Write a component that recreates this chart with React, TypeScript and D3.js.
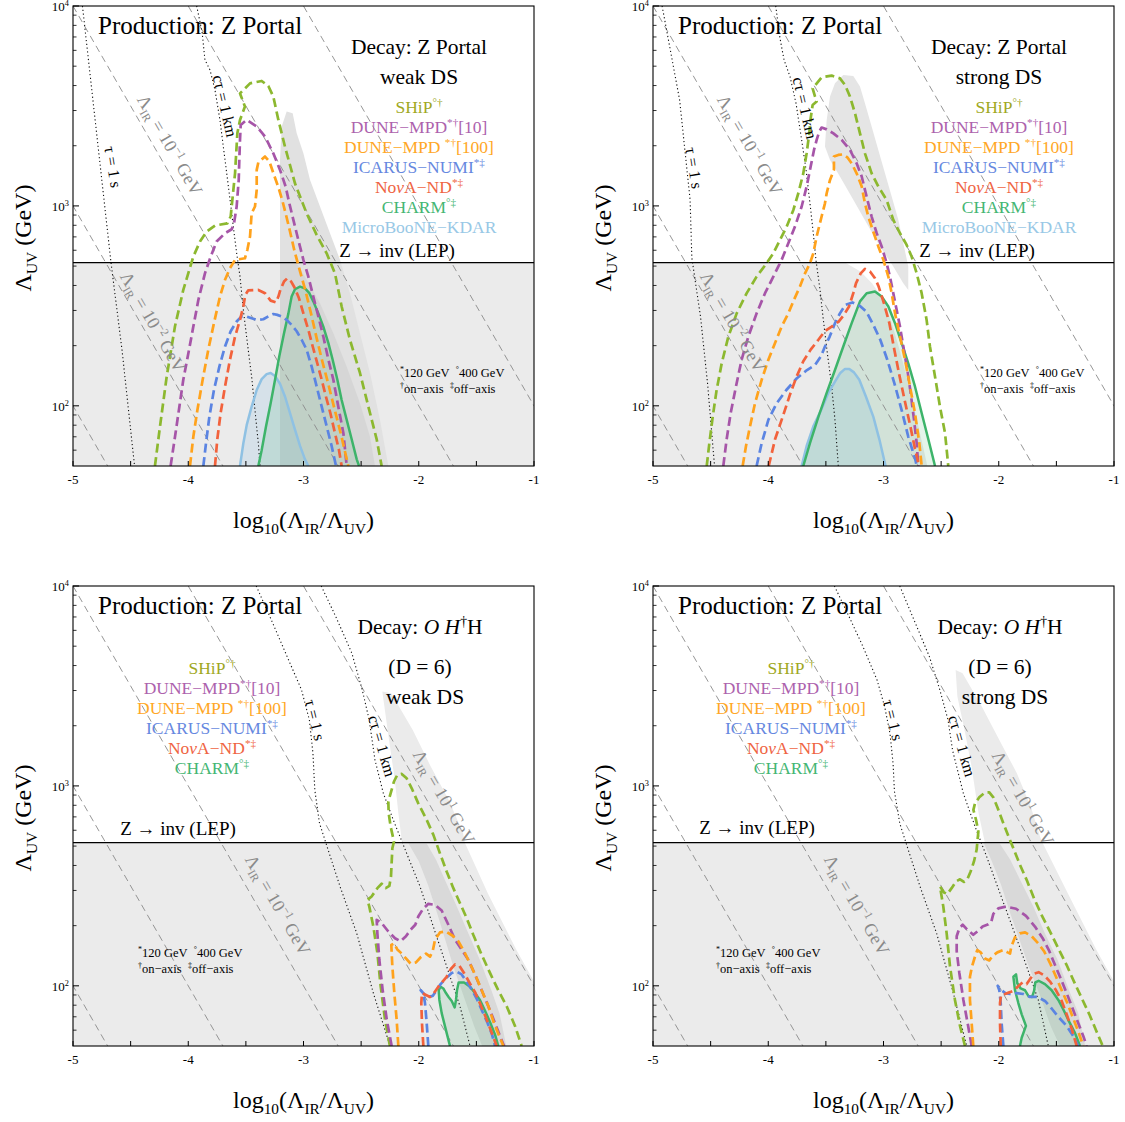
import React from 'react';
import * as d3 from 'd3';

type Pt = [number, number];
type Seg = { t: string; sup?: boolean; sub?: boolean; it?: boolean; fill?: string };

// ---------- axes ----------
const X_DOMAIN: [number, number] = [-5, -1];
const Y_DOMAIN: [number, number] = [50, 10000];
const X_TICKS = [-5, -4.5, -4, -3.5, -3, -2.5, -2, -1.5, -1];
const X_TICK_LABELS = [-5, -4, -3, -2, -1];
const Y_TICK_LABELS = [100, 1000, 10000];
const LEP_BOUND = 520;
const LAMBDA_IR = [0.001, 0.01, 0.1, 1, 10];

// ---------- colours ----------
const COL = {
  ship: '#8cb82f', dune10: '#a655a8', dune100: '#ffa21c', icarus: '#5b84e2',
  nova: '#f2623c', charm: '#3db46a', micro: '#8fc1e3',
};
const TXT = {
  ship: '#a0a81e', dune10: '#ad62ad', dune100: '#ffa726', icarus: '#6688e0',
  nova: '#ef6443', charm: '#44b673', micro: '#98c8e6',
};

// ---------- panel 1 : Z portal, weak DS ----------
const P1_SHIP: Pt[] = [[-4.289,50],[-4.245,79],[-4.187,140],[-4.115,250],[-4.043,380],[-3.956,558],[-3.898,664],[-3.840,745],[-3.768,798],[-3.661,818],[-3.632,885],[-3.594,1455],[-3.574,2307],[-3.551,2692],[-3.508,3141],[-3.551,3656],[-3.464,4102],[-3.363,4217],[-3.305,3981],[-3.262,3524],[-3.218,2692],[-3.161,1982],[-3.074,1297],[-2.973,918],[-2.886,716],[-2.799,579],[-2.727,460],[-2.669,314],[-2.597,214],[-2.510,146],[-2.437,99],[-2.365,68],[-2.322,50]];
const P1_DUNE10: Pt[] = [[-4.153,50],[-4.115,70],[-4.077,99],[-4.043,135],[-3.999,183],[-3.956,249],[-3.912,339],[-3.855,460],[-3.805,558],[-3.754,664],[-3.681,730],[-3.623,764],[-3.603,818],[-3.580,993],[-3.562,1349],[-3.557,1698],[-3.551,2138],[-3.545,2541],[-3.493,2692],[-3.406,2494],[-3.334,2223],[-3.262,1833],[-3.204,1514],[-3.155,1250],[-3.123,1030],[-3.088,851],[-3.045,676],[-3.001,537],[-2.958,443],[-2.915,352],[-2.871,280],[-2.828,222],[-2.784,170],[-2.741,135],[-2.698,99],[-2.654,73],[-2.625,50]];
const P1_DUNE100: Pt[] = [[-3.985,50],[-3.956,70],[-3.921,95],[-3.875,135],[-3.826,191],[-3.777,259],[-3.725,352],[-3.681,427],[-3.638,488],[-3.594,537],[-3.508,547],[-3.487,603],[-3.464,703],[-3.450,918],[-3.421,993],[-3.406,1202],[-3.406,1514],[-3.392,1648],[-3.334,1766],[-3.296,1667],[-3.256,1429],[-3.215,1225],[-3.181,1051],[-3.152,902],[-3.117,745],[-3.077,591],[-3.030,470],[-2.981,373],[-2.932,285],[-2.886,218],[-2.837,167],[-2.790,132],[-2.732,97],[-2.675,72],[-2.611,50]];
const P1_ICARUS: Pt[] = [[-3.869,50],[-3.846,65],[-3.817,88],[-3.777,120],[-3.730,157],[-3.681,198],[-3.632,236],[-3.580,264],[-3.537,280],[-3.499,280],[-3.450,274],[-3.401,269],[-3.349,271],[-3.305,280],[-3.262,288],[-3.227,285],[-3.189,280],[-3.146,269],[-3.103,254],[-3.059,236],[-3.016,214],[-2.973,191],[-2.929,157],[-2.886,125],[-2.842,99],[-2.799,79],[-2.756,63],[-2.718,50]];
const P1_NOVA: Pt[] = [[-3.768,50],[-3.748,68],[-3.719,92],[-3.681,125],[-3.638,170],[-3.594,222],[-3.551,269],[-3.522,314],[-3.505,359],[-3.479,378],[-3.392,380],[-3.334,366],[-3.285,336],[-3.239,329],[-3.218,352],[-3.201,380],[-3.169,419],[-3.140,435],[-3.108,419],[-3.079,392],[-3.039,345],[-3.001,290],[-2.958,240],[-2.920,198],[-2.880,163],[-2.842,135],[-2.805,111],[-2.767,92],[-2.727,73],[-2.692,60],[-2.669,50]];
const P1_CHARM: Pt[] = [[-3.392,50],[-3.363,60],[-3.325,79],[-3.285,103],[-3.247,135],[-3.210,177],[-3.169,231],[-3.131,290],[-3.103,352],[-3.074,383],[-3.030,395],[-2.987,387],[-2.949,366],[-2.915,333],[-2.871,290],[-2.828,249],[-2.784,206],[-2.747,170],[-2.706,135],[-2.669,107],[-2.625,85],[-2.582,68],[-2.538,54],[-2.518,50]];
const P1_MICRO: Pt[] = [[-3.551,50],[-3.522,65],[-3.493,80],[-3.450,99],[-3.406,120],[-3.363,136],[-3.320,144],[-3.285,146],[-3.247,141],[-3.204,129],[-3.160,111],[-3.117,92],[-3.074,76],[-3.030,63],[-2.987,54],[-2.958,50]];
const P1_BG: Pt[] = [[-5,50],[-5,LEP_BOUND],[-1,LEP_BOUND],[-1,50]];
const P1_BLOB: Pt[] = [[-3.204,50],[-3.204,1698],[-3.189,2494],[-3.146,2963],[-3.094,2904],[-3.059,2307],[-3.001,1833],[-2.943,1349],[-2.857,993],[-2.770,730],[-2.683,537],[-2.597,366],[-2.510,231],[-2.423,146],[-2.336,85],[-2.264,50]];
const P1_DARK: Pt[] = [[-3.204,522],[-3.065,522],[-2.972,427],[-2.857,326],[-2.741,231],[-2.625,157],[-2.510,103],[-2.423,70],[-2.380,50],[-3.204,50]];
const P1_TAU: Pt[] = [[-4.918,10000],[-4.670,519],[-4.575,191],[-4.466,50]];
const P1_CTAU: Pt[] = [[-3.927,10000],[-3.880,7413],[-3.855,5370],[-3.811,4786],[-3.768,3802],[-3.725,2692],[-3.681,1698],[-3.644,1156],[-3.609,789],[-3.580,579],[-3.551,444],[-3.522,302],[-3.487,206],[-3.450,140],[-3.421,95],[-3.392,65],[-3.377,50]];

// ---------- panel 2 : Z portal, strong DS ----------
const P2_SHIP: Pt[] = [[-4.534,50],[-4.511,65],[-4.482,88],[-4.448,120],[-4.404,163],[-4.346,222],[-4.274,290],[-4.187,366],[-4.101,443],[-4.014,517],[-3.956,579],[-3.898,676],[-3.840,788],[-3.782,955],[-3.739,1157],[-3.696,1455],[-3.667,1833],[-3.644,2307],[-3.632,2742],[-3.615,3199],[-3.580,3327],[-3.594,3524],[-3.615,3873],[-3.537,4395],[-3.450,4487],[-3.378,4345],[-3.334,4027],[-3.291,3524],[-3.247,2904],[-3.204,2307],[-3.161,1833],[-3.103,1455],[-3.045,1250],[-2.973,1072],[-2.944,955],[-2.915,851],[-2.857,730],[-2.799,638],[-2.756,558],[-2.712,460],[-2.669,366],[-2.626,269],[-2.597,198],[-2.553,140],[-2.510,99],[-2.466,73],[-2.438,50]];
const P2_DUNE10: Pt[] = [[-4.390,50],[-4.361,68],[-4.326,92],[-4.280,125],[-4.231,170],[-4.173,222],[-4.101,290],[-4.028,366],[-3.956,443],[-3.884,537],[-3.826,650],[-3.768,788],[-3.710,993],[-3.667,1250],[-3.632,1574],[-3.603,1905],[-3.580,2138],[-3.557,2355],[-3.537,2466],[-3.493,2415],[-3.435,2307],[-3.363,2138],[-3.291,1905],[-3.233,1633],[-3.189,1403],[-3.161,1202],[-3.132,1030],[-3.103,885],[-3.059,730],[-3.016,627],[-2.973,517],[-2.944,443],[-2.915,366],[-2.886,302],[-2.857,249],[-2.828,198],[-2.793,151],[-2.764,116],[-2.735,85],[-2.712,65],[-2.698,50]];
const P2_DUNE100: Pt[] = [[-4.222,50],[-4.193,63],[-4.158,79],[-4.115,103],[-4.057,135],[-3.999,170],[-3.941,206],[-3.884,249],[-3.826,290],[-3.777,339],[-3.725,395],[-3.681,460],[-3.638,517],[-3.609,579],[-3.580,703],[-3.537,885],[-3.508,1030],[-3.493,1157],[-3.464,1349],[-3.430,1514],[-3.430,1766],[-3.392,1799],[-3.349,1811],[-3.314,1750],[-3.276,1633],[-3.233,1455],[-3.189,1250],[-3.161,1030],[-3.132,885],[-3.094,759],[-3.045,627],[-3.001,537],[-2.958,443],[-2.929,366],[-2.900,290],[-2.857,222],[-2.813,170],[-2.770,125],[-2.727,92],[-2.689,65],[-2.669,50]];
const P2_ICARUS: Pt[] = [[-4.101,50],[-4.057,65],[-3.999,85],[-3.927,103],[-3.843,120],[-3.754,137],[-3.664,151],[-3.594,160],[-3.542,177],[-3.508,198],[-3.467,222],[-3.421,259],[-3.378,290],[-3.331,320],[-3.270,329],[-3.204,316],[-3.149,296],[-3.088,254],[-3.028,214],[-2.967,170],[-2.906,130],[-2.842,95],[-2.785,70],[-2.724,54],[-2.712,50]];
const P2_NOVA: Pt[] = [[-3.996,50],[-3.941,68],[-3.875,88],[-3.811,114],[-3.754,140],[-3.696,167],[-3.632,191],[-3.565,214],[-3.510,236],[-3.450,249],[-3.389,264],[-3.343,285],[-3.299,314],[-3.262,366],[-3.239,410],[-3.198,460],[-3.161,484],[-3.117,470],[-3.074,435],[-3.042,395],[-2.996,326],[-2.949,259],[-2.906,191],[-2.860,140],[-2.814,105],[-2.767,79],[-2.727,61],[-2.692,50]];
const P2_CHARM: Pt[] = [[-3.696,50],[-3.638,65],[-3.565,88],[-3.493,116],[-3.421,151],[-3.349,198],[-3.276,259],[-3.204,333],[-3.146,366],[-3.074,373],[-3.016,352],[-2.958,314],[-2.900,259],[-2.842,206],[-2.785,163],[-2.727,125],[-2.669,92],[-2.611,68],[-2.553,50]];
const P2_MICRO: Pt[] = [[-3.710,50],[-3.667,63],[-3.609,79],[-3.542,95],[-3.479,116],[-3.421,132],[-3.375,146],[-3.334,153],[-3.297,153],[-3.256,147],[-3.210,135],[-3.152,111],[-3.088,88],[-3.036,68],[-2.982,50]];
const P2_BG: Pt[] = [[-5,50],[-5,LEP_BOUND],[-3.33,LEP_BOUND],[-3.2,470],[-3.1,410],[-3.0,340],[-2.93,260],[-2.87,200],[-2.8,140],[-2.72,90],[-2.65,60],[-2.62,50]];
const P2_BLOB: Pt[] = [[-3.508,1982],[-3.493,2692],[-3.464,3524],[-3.421,4102],[-3.349,4519],[-3.262,4467],[-3.204,3954],[-3.161,3258],[-3.103,2494],[-3.045,1905],[-2.987,1455],[-2.929,1114],[-2.871,851],[-2.828,650],[-2.785,498],[-2.785,380],[-2.828,410],[-2.915,498],[-3.030,627],[-3.146,818],[-3.262,1072],[-3.378,1403],[-3.464,1698]];
const P2_TAU: Pt[] = [[-4.921,10000],[-4.769,3388],[-4.678,1072],[-4.663,550],[-4.588,280],[-4.527,130],[-4.466,50]];
const P2_CTAU: Pt[] = [[-3.935,10000],[-3.900,7000],[-3.863,5370],[-3.811,4436],[-3.759,3258],[-3.710,2138],[-3.672,1514],[-3.638,1030],[-3.609,730],[-3.586,537],[-3.551,380],[-3.522,269],[-3.487,183],[-3.450,125],[-3.421,85],[-3.392,50]];

// ---------- panel 3 : O H†H, weak DS ----------
const P3_SHIP: Pt[] = [[-2.250,50],[-2.293,68],[-2.330,99],[-2.359,146],[-2.394,198],[-2.429,249],[-2.446,269],[-2.409,280],[-2.359,308],[-2.322,324],[-2.287,308],[-2.255,316],[-2.241,352],[-2.229,488],[-2.215,527],[-2.244,627],[-2.261,730],[-2.264,836],[-2.244,918],[-2.215,1052],[-2.186,1135],[-2.148,1148],[-2.105,1091],[-2.061,973],[-2.004,818],[-1.931,676],[-1.873,569],[-1.816,460],[-1.758,373],[-1.700,308],[-1.642,259],[-1.584,218],[-1.527,180],[-1.454,143],[-1.382,116],[-1.310,95],[-1.237,79],[-1.165,63],[-1.107,50]];
const P3_DUNE10: Pt[] = [[-2.235,50],[-2.278,68],[-2.313,95],[-2.342,135],[-2.359,183],[-2.365,214],[-2.322,206],[-2.264,187],[-2.206,173],[-2.157,167],[-2.111,177],[-2.070,191],[-2.030,202],[-2.004,222],[-1.960,244],[-1.917,257],[-1.859,254],[-1.801,238],[-1.743,202],[-1.685,170],[-1.628,152],[-1.570,135],[-1.512,114],[-1.454,95],[-1.396,79],[-1.338,65],[-1.295,56],[-1.260,50]];
const P3_DUNE100: Pt[] = [[-2.177,50],[-2.192,68],[-2.212,92],[-2.229,125],[-2.238,160],[-2.215,163],[-2.186,152],[-2.148,145],[-2.111,137],[-2.070,129],[-2.024,131],[-1.983,139],[-1.937,145],[-1.902,140],[-1.879,149],[-1.859,170],[-1.816,185],[-1.764,187],[-1.706,178],[-1.657,167],[-1.607,149],[-1.555,129],[-1.503,111],[-1.454,95],[-1.396,79],[-1.347,65],[-1.301,56],[-1.266,50]];
const P3_ICARUS: Pt[] = [[-1.917,50],[-1.931,65],[-1.946,82],[-1.960,92],[-1.983,95],[-1.954,91],[-1.917,88],[-1.879,89],[-1.845,95],[-1.810,102],[-1.764,109],[-1.714,116],[-1.671,118],[-1.628,114],[-1.579,104],[-1.532,94],[-1.492,85],[-1.446,74],[-1.402,65],[-1.364,57],[-1.338,50]];
const P3_NOVA: Pt[] = [[-1.960,50],[-1.972,65],[-1.978,82],[-1.972,92],[-1.937,90],[-1.902,88],[-1.868,92],[-1.830,99],[-1.793,105],[-1.758,111],[-1.723,121],[-1.685,128],[-1.648,126],[-1.607,116],[-1.561,104],[-1.512,93],[-1.466,81],[-1.420,70],[-1.375,60],[-1.324,50]];
const P3_CHARM: Pt[] = [[-1.729,50],[-1.764,60],[-1.801,73],[-1.821,85],[-1.827,95],[-1.810,99],[-1.787,97],[-1.764,92],[-1.741,88],[-1.714,84],[-1.688,78],[-1.677,85],[-1.668,95],[-1.654,104],[-1.607,104],[-1.555,99],[-1.512,92],[-1.469,85],[-1.425,75],[-1.382,66],[-1.338,57],[-1.310,50]];
const P3_BG: Pt[] = [[-5,50],[-5,LEP_BOUND],[-2.145,LEP_BOUND],[-2.177,733],[-2.208,1072],[-2.27,1905],[-2.316,2963],[-2.239,2904],[-2.052,1905],[-1.896,1250],[-1.74,851],[-1.616,582],[-1.6,LEP_BOUND],[-1.4,290],[-1.15,150],[-1.0,105],[-1,50]];
const P3_DARK: Pt[] = [[-2.09,517],[-1.93,513],[-1.85,427],[-1.76,326],[-1.67,249],[-1.57,183],[-1.47,135],[-1.37,95],[-1.30,73],[-1.24,50],[-1.45,50],[-1.52,63],[-1.62,92],[-1.70,125],[-1.77,170],[-1.84,230],[-1.92,320],[-2.0,420]];
const P3_TAU: Pt[] = [[-3.41,10000],[-3.266,6501],[-3.142,4436],[-3.017,3020],[-2.949,2138],[-2.918,1455],[-2.902,955],[-2.861,650],[-2.683,314],[-2.538,183],[-2.394,92],[-2.249,50]];
const P3_CTAU: Pt[] = [[-2.846,10000],[-2.72,7031],[-2.58,4603],[-2.49,3020],[-2.43,2138],[-2.38,1349],[-2.307,918],[-2.221,676],[-2.105,460],[-1.989,314],[-1.874,198],[-1.758,125],[-1.642,79],[-1.555,50]];

// ---------- panel 4 : O H†H, strong DS ----------
const P4_SHIP: Pt[] = [[-2.293,50],[-2.336,63],[-2.380,85],[-2.423,125],[-2.452,183],[-2.481,249],[-2.510,314],[-2.475,293],[-2.446,288],[-2.409,308],[-2.371,333],[-2.336,341],[-2.302,331],[-2.273,341],[-2.244,373],[-2.215,419],[-2.192,479],[-2.177,591],[-2.197,676],[-2.220,759],[-2.206,818],[-2.169,877],[-2.119,927],[-2.082,929],[-2.047,877],[-2.012,782],[-1.966,664],[-1.917,562],[-1.868,479],[-1.816,403],[-1.758,339],[-1.694,274],[-1.628,226],[-1.556,187],[-1.483,154],[-1.411,127],[-1.347,105],[-1.281,87],[-1.214,72],[-1.156,60],[-1.098,50]];
const P4_DUNE10: Pt[] = [[-2.235,50],[-2.270,65],[-2.307,85],[-2.342,116],[-2.365,149],[-2.365,177],[-2.342,194],[-2.313,202],[-2.273,191],[-2.221,180],[-2.186,187],[-2.140,198],[-2.090,203],[-2.064,210],[-2.047,229],[-2.004,244],[-1.937,249],[-1.850,243],[-1.764,224],[-1.686,198],[-1.619,173],[-1.561,149],[-1.512,127],[-1.463,109],[-1.411,92],[-1.359,77],[-1.310,65],[-1.266,56],[-1.237,50]];
const P4_DUNE100: Pt[] = [[-2.221,50],[-2.235,65],[-2.250,85],[-2.250,111],[-2.232,125],[-2.206,140],[-2.186,151],[-2.157,147],[-2.119,137],[-2.082,134],[-2.053,141],[-2.012,147],[-1.960,151],[-1.923,147],[-1.902,145],[-1.891,157],[-1.859,175],[-1.816,183],[-1.772,185],[-1.714,177],[-1.657,163],[-1.607,149],[-1.555,130],[-1.503,111],[-1.454,95],[-1.405,82],[-1.359,70],[-1.310,59],[-1.266,50]];
const P4_ICARUS: Pt[] = [[-1.960,50],[-1.975,65],[-1.983,82],[-1.995,95],[-2.009,100],[-1.975,95],[-1.943,92],[-1.902,91],[-1.845,92],[-1.787,91],[-1.729,88],[-1.665,88],[-1.599,84],[-1.541,77],[-1.483,70],[-1.411,63],[-1.353,56],[-1.310,50]];
const P4_NOVA: Pt[] = [[-1.983,50],[-1.989,65],[-1.989,82],[-1.980,90],[-1.946,91],[-1.902,93],[-1.865,95],[-1.827,100],[-1.793,104],[-1.758,102],[-1.729,108],[-1.694,115],[-1.654,117],[-1.607,113],[-1.555,105],[-1.503,95],[-1.454,84],[-1.411,72],[-1.367,61],[-1.324,50]];
const P4_CHARM: Pt[] = [[-1.816,50],[-1.801,55],[-1.764,63],[-1.801,72],[-1.830,82],[-1.859,95],[-1.873,111],[-1.850,114],[-1.839,103],[-1.810,97],[-1.772,95],[-1.743,89],[-1.711,88],[-1.694,94],[-1.683,104],[-1.654,106],[-1.599,102],[-1.541,95],[-1.483,85],[-1.434,75],[-1.388,66],[-1.338,58],[-1.295,50]];
const P4_BG: Pt[] = [[-5,50],[-5,LEP_BOUND],[-2.12,LEP_BOUND],[-2.175,730],[-2.236,1250],[-2.297,1905],[-2.359,2800],[-2.374,3800],[-2.314,3656],[-2.147,2493],[-1.995,1698],[-1.843,1157],[-1.723,788],[-1.632,537],[-1.62,LEP_BOUND],[-1.4,290],[-1.15,150],[-1.0,105],[-1,50]];
const P4_DARK: Pt[] = [[-2.13,517],[-1.99,513],[-1.90,427],[-1.80,326],[-1.70,249],[-1.60,183],[-1.49,135],[-1.39,95],[-1.31,73],[-1.25,50],[-1.47,50],[-1.55,63],[-1.65,92],[-1.74,125],[-1.82,170],[-1.90,230],[-1.98,320],[-2.06,420]];
const P4_TAU: Pt[] = [[-3.426,10000],[-3.299,7031],[-3.178,4977],[-3.056,3388],[-2.990,2495],[-2.944,1832],[-2.917,1297],[-2.905,938],[-2.859,650],[-2.683,314],[-2.539,183],[-2.394,92],[-2.278,50]];
const P4_CTAU: Pt[] = [[-2.859,10000],[-2.723,6501],[-2.602,4436],[-2.511,3020],[-2.44,2138],[-2.40,1500],[-2.307,918],[-2.206,627],[-2.105,443],[-1.989,290],[-1.873,191],[-1.758,125],[-1.657,85],[-1.570,50]];

// ---------- text ----------
const LEG_SHIP: Seg[] = [{ t: 'SHiP' }, { t: '°†', sup: true }];
const LEG_DUNE10: Seg[] = [{ t: 'DUNE−MPD' }, { t: '*†', sup: true }, { t: '[10]' }];
const LEG_DUNE100: Seg[] = [{ t: 'DUNE−MPD\u00A0' }, { t: '*†', sup: true }, { t: '[100]' }];
const LEG_ICARUS: Seg[] = [{ t: 'ICARUS−NUMI' }, { t: '*‡', sup: true }];
const LEG_NOVA: Seg[] = [{ t: 'No' }, { t: 'ν', it: true }, { t: 'A−ND' }, { t: '*‡', sup: true }];
const LEG_CHARM: Seg[] = [{ t: 'CHARM' }, { t: '°‡', sup: true }];
const LEG_MICRO: Seg[] = [{ t: 'MicroBooNE−KDAR' }];
const LEGEND_FULL = [
  { segs: LEG_SHIP, c: TXT.ship }, { segs: LEG_DUNE10, c: TXT.dune10 }, { segs: LEG_DUNE100, c: TXT.dune100 },
  { segs: LEG_ICARUS, c: TXT.icarus }, { segs: LEG_NOVA, c: TXT.nova }, { segs: LEG_CHARM, c: TXT.charm },
  { segs: LEG_MICRO, c: TXT.micro },
];
const LEGEND_SHORT = LEGEND_FULL.slice(0, 6);
const DECAY_Z: Seg[] = [{ t: 'Decay: Z Portal' }];
const DECAY_H: Seg[] = [{ t: 'Decay: ' }, { t: 'O', it: true }, { t: '\u00A0' }, { t: 'H', it: true }, { t: '†', sup: true }, { t: 'H' }];
const FOOT1: Seg[] = [{ t: '*', sup: true }, { t: '120 GeV\u00A0\u00A0' }, { t: '°', sup: true }, { t: '400 GeV' }];
const FOOT2: Seg[] = [{ t: '†', sup: true }, { t: 'on−axis\u00A0\u00A0' }, { t: '‡', sup: true }, { t: 'off−axis' }];
const XLABEL: Seg[] = [{ t: 'log' }, { t: '10', sub: true }, { t: '(Λ' }, { t: 'IR', sub: true }, { t: '/Λ' }, { t: 'UV', sub: true }, { t: ')' }];
const YLABEL: Seg[] = [{ t: 'Λ' }, { t: 'UV', sub: true }, { t: '\u00A0(GeV)' }];
const lamLabel = (e: string): Seg[] => [{ t: 'Λ' }, { t: 'IR', sub: true }, { t: ' = 10' }, { t: e, sup: true }, { t: ' GeV' }];

const PW = 461;
const PH = 460;
const FONT = "'Liberation Serif','Times New Roman',Times,serif";

function Rich({ segs, size, x = 0, cy = 0, anchor = 'middle', fill = '#000' }: { segs: Seg[]; size: number; x?: number; cy?: number; anchor?: string; fill?: string }) {
  let cur = 0;
  return (
    <text x={x} y={cy + size * 0.34} fontSize={size} textAnchor={anchor as any} fill={fill}>
      {segs.map((s, i) => {
        const target = s.sup ? -size * 0.4 : s.sub ? size * 0.24 : 0;
        const dy = target - cur;
        cur = target;
        return (
          <tspan key={i} dy={dy} fontSize={s.sup || s.sub ? size * 0.64 : size} fontStyle={s.it ? 'italic' : 'normal'} fill={s.fill}>
            {s.t}
          </tspan>
        );
      })}
    </text>
  );
}

type Curve = { pts: Pt[]; color: string; dashed: boolean; fill?: string };
type Cfg = {
  ox: number; oy: number;
  bg: Pt[]; blobs: { pts: Pt[]; fill: string }[];
  curves: Curve[]; tau: Pt[]; ctau: Pt[];
  decay: { segs: Seg[]; cx: number; cy: number }[];
  legend: { segs: Seg[]; c: string }[]; legX: number; legY: number;
  lep: [number, number]; foot: [number, number];
  tauL: [number, number, number]; ctauL: [number, number, number];
  lamL: { x: number; y: number; e: string }[];
};

const curves1 = (s: Pt[], d10: Pt[], d100: Pt[], ic: Pt[], nv: Pt[], ch: Pt[], mb?: Pt[]): Curve[] => {
  const out: Curve[] = [];
  if (mb) out.push({ pts: mb, color: COL.micro, dashed: false, fill: 'rgba(143,193,227,0.22)' });
  out.push({ pts: ch, color: COL.charm, dashed: false, fill: 'rgba(61,180,106,0.14)' });
  out.push({ pts: s, color: COL.ship, dashed: true });
  out.push({ pts: d10, color: COL.dune10, dashed: true });
  out.push({ pts: d100, color: COL.dune100, dashed: true });
  out.push({ pts: ic, color: COL.icarus, dashed: true });
  out.push({ pts: nv, color: COL.nova, dashed: true });
  return out;
};

const PANELS: Cfg[] = [
  {
    ox: 73, oy: 6, bg: P1_BG,
    blobs: [{ pts: P1_BLOB, fill: '#e1e1e1' }, { pts: P1_DARK, fill: '#d6d6d6' }],
    curves: curves1(P1_SHIP, P1_DUNE10, P1_DUNE100, P1_ICARUS, P1_NOVA, P1_CHARM, P1_MICRO),
    tau: P1_TAU, ctau: P1_CTAU,
    decay: [{ segs: DECAY_Z, cx: 346, cy: 41 }, { segs: [{ t: 'weak DS' }], cx: 346, cy: 71 }],
    legend: LEGEND_FULL, legX: 346, legY: 101,
    lep: [324, 245], foot: [327, 367],
    tauL: [40, 161, 81], ctauL: [152, 100, 77],
    lamL: [{ x: 97, y: 139, e: '−1' }, { x: 80, y: 316, e: '−2' }],
  },
  {
    ox: 653, oy: 6, bg: P2_BG,
    blobs: [{ pts: P2_BLOB, fill: '#e5e5e5' }],
    curves: curves1(P2_SHIP, P2_DUNE10, P2_DUNE100, P2_ICARUS, P2_NOVA, P2_CHARM, P2_MICRO),
    tau: P2_TAU, ctau: P2_CTAU,
    decay: [{ segs: DECAY_Z, cx: 346, cy: 41 }, { segs: [{ t: 'strong DS' }], cx: 346, cy: 71 }],
    legend: LEGEND_FULL, legX: 346, legY: 101,
    lep: [324, 245], foot: [327, 367],
    tauL: [41, 162, 81], ctauL: [152, 102, 77],
    lamL: [{ x: 97, y: 139, e: '−1' }, { x: 80, y: 316, e: '−2' }],
  },
  {
    ox: 73, oy: 586, bg: P3_BG,
    blobs: [{ pts: P3_DARK, fill: '#d9d9d9' }],
    curves: curves1(P3_SHIP, P3_DUNE10, P3_DUNE100, P3_ICARUS, P3_NOVA, P3_CHARM),
    tau: P3_TAU, ctau: P3_CTAU,
    decay: [{ segs: DECAY_H, cx: 347, cy: 41 }, { segs: [{ t: '(D = 6)' }], cx: 347, cy: 81 }, { segs: [{ t: 'weak DS' }], cx: 352, cy: 111 }],
    legend: LEGEND_SHORT, legX: 139, legY: 82,
    lep: [105, 243], foot: [65, 367],
    tauL: [242, 134, 76], ctauL: [309, 160, 74],
    lamL: [{ x: 205, y: 319, e: '−1' }, { x: 371, y: 211, e: '1' }],
  },
  {
    ox: 653, oy: 586, bg: P4_BG,
    blobs: [{ pts: P4_DARK, fill: '#d9d9d9' }],
    curves: curves1(P4_SHIP, P4_DUNE10, P4_DUNE100, P4_ICARUS, P4_NOVA, P4_CHARM),
    tau: P4_TAU, ctau: P4_CTAU,
    decay: [{ segs: DECAY_H, cx: 347, cy: 41 }, { segs: [{ t: '(D = 6)' }], cx: 347, cy: 81 }, { segs: [{ t: 'strong DS' }], cx: 352, cy: 111 }],
    legend: LEGEND_SHORT, legX: 138, legY: 82,
    lep: [104, 242], foot: [63, 367],
    tauL: [240, 134, 76], ctauL: [309, 160, 74],
    lamL: [{ x: 204, y: 319, e: '−1' }, { x: 370, y: 212, e: '1' }],
  },
];

function Panel({ cfg, idx }: { cfg: Cfg; idx: number }) {
  const x = d3.scaleLinear().domain(X_DOMAIN).range([0, PW]);
  const y = d3.scaleLog().domain(Y_DOMAIN).range([PH, 0]);
  const line = d3.line<Pt>().x((d) => x(d[0])).y((d) => y(d[1]));
  const poly = (pts: Pt[]) => (line(pts) || '') + 'Z';
  const clipId = `pclip${idx}`;
  const minorY: number[] = [];
  for (let e = 1; e <= 3; e++) for (let k = 2; k <= 9; k++) {
    const v = k * Math.pow(10, e);
    if (v > Y_DOMAIN[0] && v < Y_DOMAIN[1]) minorY.push(v);
  }
  const lamLines = LAMBDA_IR.map((L) => [[Math.log10(L) - Math.log10(Y_DOMAIN[1]), Y_DOMAIN[1]], [Math.log10(L) - Math.log10(Y_DOMAIN[0]), Y_DOMAIN[0]]] as Pt[]);

  return (
    <g transform={`translate(${cfg.ox},${cfg.oy})`}>
      <defs>
        <clipPath id={clipId}><rect x={0} y={0} width={PW} height={PH} /></clipPath>
      </defs>
      <g clipPath={`url(#${clipId})`}>
        <rect x={0} y={0} width={PW} height={PH} fill="#fff" />
        <path d={poly(cfg.bg)} fill="#ebebeb" />
        {cfg.blobs.map((b, i) => <path key={i} d={poly(b.pts)} fill={b.fill} />)}
        {cfg.curves.filter((c) => c.fill).map((c, i) => <path key={i} d={poly(c.pts)} fill={c.fill} />)}
        {lamLines.map((l, i) => <path key={i} d={line(l) || ''} fill="none" stroke="#8a8a8a" strokeWidth={0.9} strokeDasharray="7 4.5" />)}
        <path d={line(cfg.tau) || ''} fill="none" stroke="#111" strokeWidth={1.1} strokeDasharray="1.2 2.6" />
        <path d={line(cfg.ctau) || ''} fill="none" stroke="#111" strokeWidth={1.1} strokeDasharray="1.2 2.6" />
        <line x1={0} x2={PW} y1={y(LEP_BOUND)} y2={y(LEP_BOUND)} stroke="#000" strokeWidth={1.3} />
        {cfg.curves.map((c, i) => (
          <path key={i} d={line(c.pts) || ''} fill="none" stroke={c.color} strokeWidth={c.dashed ? 2.7 : 2.5}
            strokeDasharray={c.dashed ? '9 4.5' : undefined} strokeLinejoin="round" />
        ))}
        {cfg.lamL.map((l, i) => (
          <g key={i} transform={`translate(${l.x},${l.y}) rotate(60)`}>
            <Rich segs={lamLabel(l.e)} size={18} fill="#8a8a8a" />
          </g>
        ))}
        <g transform={`translate(${cfg.tauL[0]},${cfg.tauL[1]}) rotate(${cfg.tauL[2]})`}>
          <Rich segs={[{ t: 'τ = 1 s', it: false }]} size={16} />
        </g>
        <g transform={`translate(${cfg.ctauL[0]},${cfg.ctauL[1]}) rotate(${cfg.ctauL[2]})`}>
          <Rich segs={[{ t: 'c' }, { t: 'τ' }, { t: ' = 1 km' }]} size={16} />
        </g>
      </g>
      {/* texts */}
      <Rich segs={[{ t: 'Production: Z Portal' }]} size={25} x={25} cy={19} anchor="start" />
      {cfg.decay.map((d, i) => <Rich key={i} segs={d.segs} size={21.5} x={d.cx} cy={d.cy} />)}
      {cfg.legend.map((l, i) => <Rich key={i} segs={l.segs} size={17.5} x={cfg.legX} cy={cfg.legY + i * 20} fill={l.c} />)}
      <Rich segs={[{ t: 'Z → inv (LEP)' }]} size={19} x={cfg.lep[0]} cy={cfg.lep[1]} />
      <Rich segs={FOOT1} size={12.5} x={cfg.foot[0]} cy={cfg.foot[1]} anchor="start" />
      <Rich segs={FOOT2} size={12.5} x={cfg.foot[0]} cy={cfg.foot[1] + 16} anchor="start" />
      {/* frame and ticks */}
      <rect x={0} y={0} width={PW} height={PH} fill="none" stroke="#000" strokeWidth={1.1} />
      {X_TICKS.map((t, i) => <line key={i} x1={x(t)} x2={x(t)} y1={PH} y2={PH - 5} stroke="#000" strokeWidth={1} />)}
      {Y_TICK_LABELS.map((t, i) => <line key={i} x1={0} x2={6} y1={y(t)} y2={y(t)} stroke="#000" strokeWidth={1} />)}
      {minorY.map((t, i) => <line key={i} x1={0} x2={3.5} y1={y(t)} y2={y(t)} stroke="#000" strokeWidth={0.8} />)}
      {X_TICK_LABELS.map((t, i) => (
        <Rich key={i} segs={[{ t: String(t) }]} size={13} x={x(t)} cy={PH + 14} />
      ))}
      {Y_TICK_LABELS.map((t, i) => (
        <Rich key={i} segs={[{ t: '10' }, { t: String(Math.round(Math.log10(t))), sup: true }]} size={13} x={-4} cy={y(t) + 1} anchor="end" />
      ))}
      <Rich segs={XLABEL} size={24} x={PW / 2} cy={514} />
      <g transform={`translate(-50,${PH / 2 + 2}) rotate(-90)`}>
        <Rich segs={YLABEL} size={24} />
      </g>
    </g>
  );
}

export default function App() {
  return (
    <svg width={1125} height={1122} style={{ position: 'absolute', left: 0, top: 0, background: '#fff' }} fontFamily={FONT}>
      <rect x={0} y={0} width={1125} height={1122} fill="#fff" />
      {PANELS.map((p, i) => <Panel key={i} cfg={p} idx={i} />)}
    </svg>
  );
}
